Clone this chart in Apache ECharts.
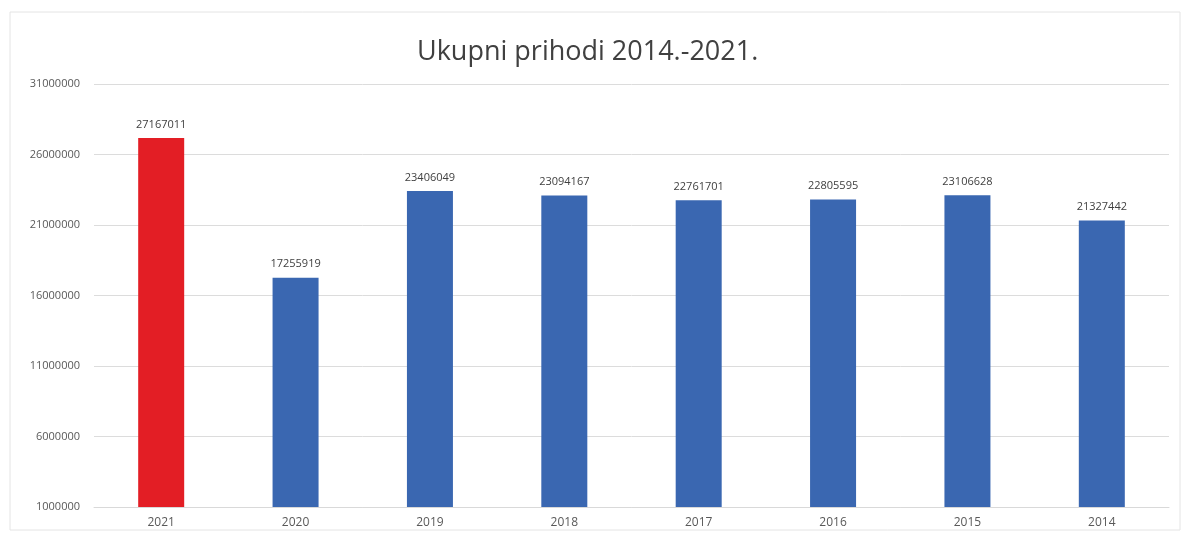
<!DOCTYPE html>
<html><head><meta charset="utf-8">
<script src="https://cdn.jsdelivr.net/npm/echarts@6/dist/echarts.min.js"></script>
<style>html,body{margin:0;padding:0;background:#fff}#c{width:1189px;height:535px}</style>
</head><body><div id="c"></div>
<script>
var categories = ['2021','2020','2019','2018','2017','2016','2015','2014'];
var values = [27167011, 17255919, 23406049, 23094167, 22761701, 22805595, 23106628, 21327442];
var barColors = ['#E31E25','#3A67B1','#3A67B1','#3A67B1','#3A67B1','#3A67B1','#3A67B1','#3A67B1'];
var chart = echarts.init(document.getElementById('c'));
chart.setOption({
  animation: false,
  title: {text: 'Ukupni prihodi 2014.-2021.', left: 412, top: 34,
    textStyle: {fontFamily: 'Open Sans', fontSize: 27, fontWeight: 'normal', color: '#404040'}},
  graphic: [{type: 'rect', shape: {x: 10, y: 12, width: 1170, height: 518},
    style: {fill: 'none', stroke: '#e4e4e4', lineWidth: 1}, silent: true}],
  grid: {left: 94, right: 20, top: 84, bottom: 28},
  xAxis: {type: 'category', data: categories,
    axisLine: {lineStyle: {color: '#d9d9d9'}}, axisTick: {show: false},
    axisLabel: {color: '#595959', fontSize: 12, fontFamily: 'Open Sans', margin: 10}},
  yAxis: {type: 'value', min: 1000000, max: 31000000, interval: 5000000,
    axisLine: {show: false}, axisTick: {show: false},
    splitLine: {lineStyle: {color: '#dcdcdc'}},
    axisLabel: {color: '#595959', fontSize: 11, fontFamily: 'Open Sans', margin: 14,
      formatter: function(v){ return String(v); }}},
  series: [{type: 'bar', barWidth: 46,
    data: values.map(function(v, i){ return {value: v, itemStyle: {color: barColors[i]}}; }),
    label: {show: true, position: 'top', distance: 8, color: '#404040', fontSize: 11, fontFamily: 'Open Sans'}}]
});
</script></body></html>
